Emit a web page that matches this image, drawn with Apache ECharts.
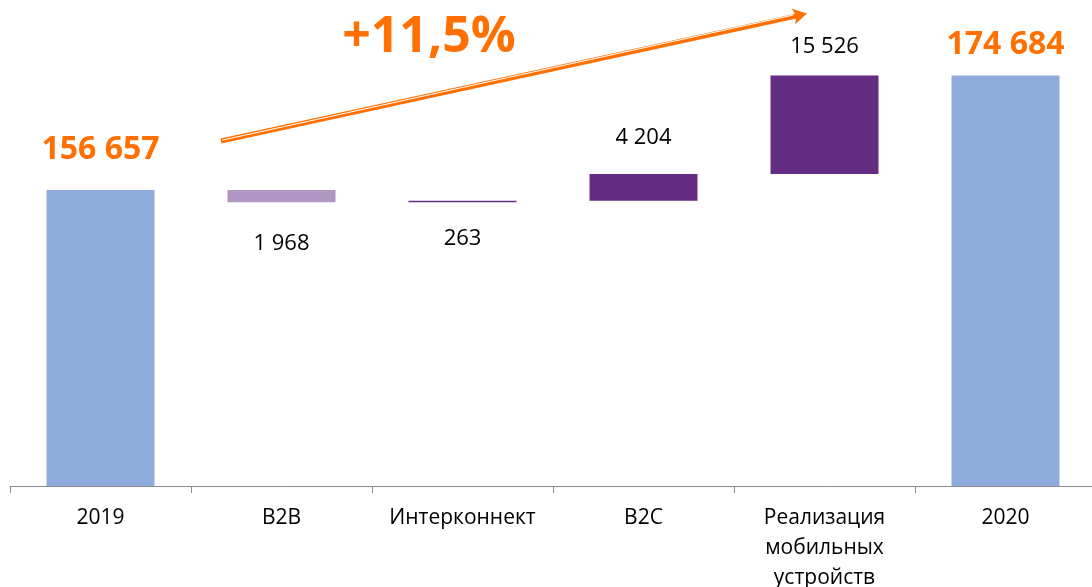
<!DOCTYPE html>
<html><head><meta charset="utf-8">
<script src="https://cdn.jsdelivr.net/npm/echarts@6/dist/echarts.min.js"></script>
<style>html,body{margin:0;padding:0;background:#fff;overflow:hidden}#c{width:1096px;height:587px}</style>
</head><body><div id="c"></div>
<script>
const categories = ['2019', 'B2B', 'Интерконнект', 'B2C', 'Реализация\nмобильных\nустройств', '2020'];
const totals = [156657, null, null, null, null, 174684];
const deltas = [null, -1968, 263, 4204, 15526, null];
const growthLabel = '+11,5%';

const ORANGE = '#FF7000';
const BLUE = '#8FABDB';
const NEG = '#B195C3';
const POS = '#652C84';
const FONT = '"Open Sans", "Noto Sans", sans-serif';

function fmt(v) { return String(Math.round(Math.abs(v))).replace(/\B(?=(\d{3})+(?!\d))/g, ' '); }

const baseData = [], visData = [];
let running = 0;
const labelDist = [24, 30, 25, 25, 18, 15];
for (let i = 0; i < categories.length; i++) {
  if (totals[i] != null) {
    running = totals[i];
    baseData.push(0);
    visData.push({ value: totals[i], itemStyle: { color: BLUE },
      label: { show: true, position: 'top', distance: labelDist[i], color: ORANGE, fontWeight: 'bold', fontSize: 32, fontFamily: FONT } });
  } else {
    const d = deltas[i];
    const neg = d < 0;
    baseData.push(neg ? running + d : running);
    running += d;
    visData.push({ value: Math.abs(d), itemStyle: { color: neg ? NEG : POS },
      label: { show: true, position: (i === 1 || i === 2) ? 'bottom' : 'top', distance: labelDist[i], color: '#000', fontSize: 22, fontFamily: FONT } });
  }
}

// growth arrow annotation
const tip = [807, 13.5], a0 = [221, 141];
const dx = tip[0] - a0[0], dy = tip[1] - a0[1], L = Math.hypot(dx, dy);
const bx = -dx / L, by = -dy / L;
function rot(ang, len) { const c = Math.cos(ang), s = Math.sin(ang); return [tip[0] + len * (bx * c - by * s), tip[1] + len * (bx * s + by * c)]; }
const arm1 = rot(Math.PI / 6, 16), arm2 = rot(-Math.PI / 6, 16), notch = rot(0, 11);
const nx = -by, ny = bx; // perpendicular

const chart = echarts.init(document.getElementById('c'));
chart.setOption({
  animation: false,
  grid: { left: 10, right: 0, top: 10, bottom: 101, containLabel: false, outerBoundsMode: 'none' },
  xAxis: {
    type: 'category', data: categories,
    axisLine: { lineStyle: { color: '#8C8C8C', width: 1 } },
    axisTick: { show: true, length: 7, lineStyle: { color: '#8C8C8C' } },
    axisLabel: { color: '#000', fontSize: 21, fontFamily: FONT, lineHeight: 30, margin: 17, interval: 0 }
  },
  yAxis: { type: 'value', min: 110000, max: 185000, show: false, splitLine: { show: false } },
  series: [
    { type: 'bar', stack: 'w', data: baseData, barWidth: 108, itemStyle: { color: 'rgba(0,0,0,0)' }, silent: true },
    { type: 'bar', stack: 'w', data: visData, barWidth: 108, label: { formatter: p => fmt(p.value) } }
  ],
  graphic: [
    { type: 'line', shape: { x1: a0[0], y1: a0[1], x2: notch[0] + 1, y2: notch[1] }, style: { stroke: ORANGE, lineWidth: 5 } },
    { type: 'line', shape: { x1: a0[0] + 1, y1: a0[1] - 0.8, x2: notch[0] - 3, y2: notch[1] - 0.8 }, style: { stroke: '#fff', lineWidth: 1 } },
    { type: 'polygon', shape: { points: [tip, arm1, notch, arm2] }, style: { fill: ORANGE } },
    { type: 'text', x: 429, y: 38, style: { text: growthLabel, fill: ORANGE, font: 'bold 50px ' + FONT, textAlign: 'center', textVerticalAlign: 'middle' } }
  ]
});
</script></body></html>
